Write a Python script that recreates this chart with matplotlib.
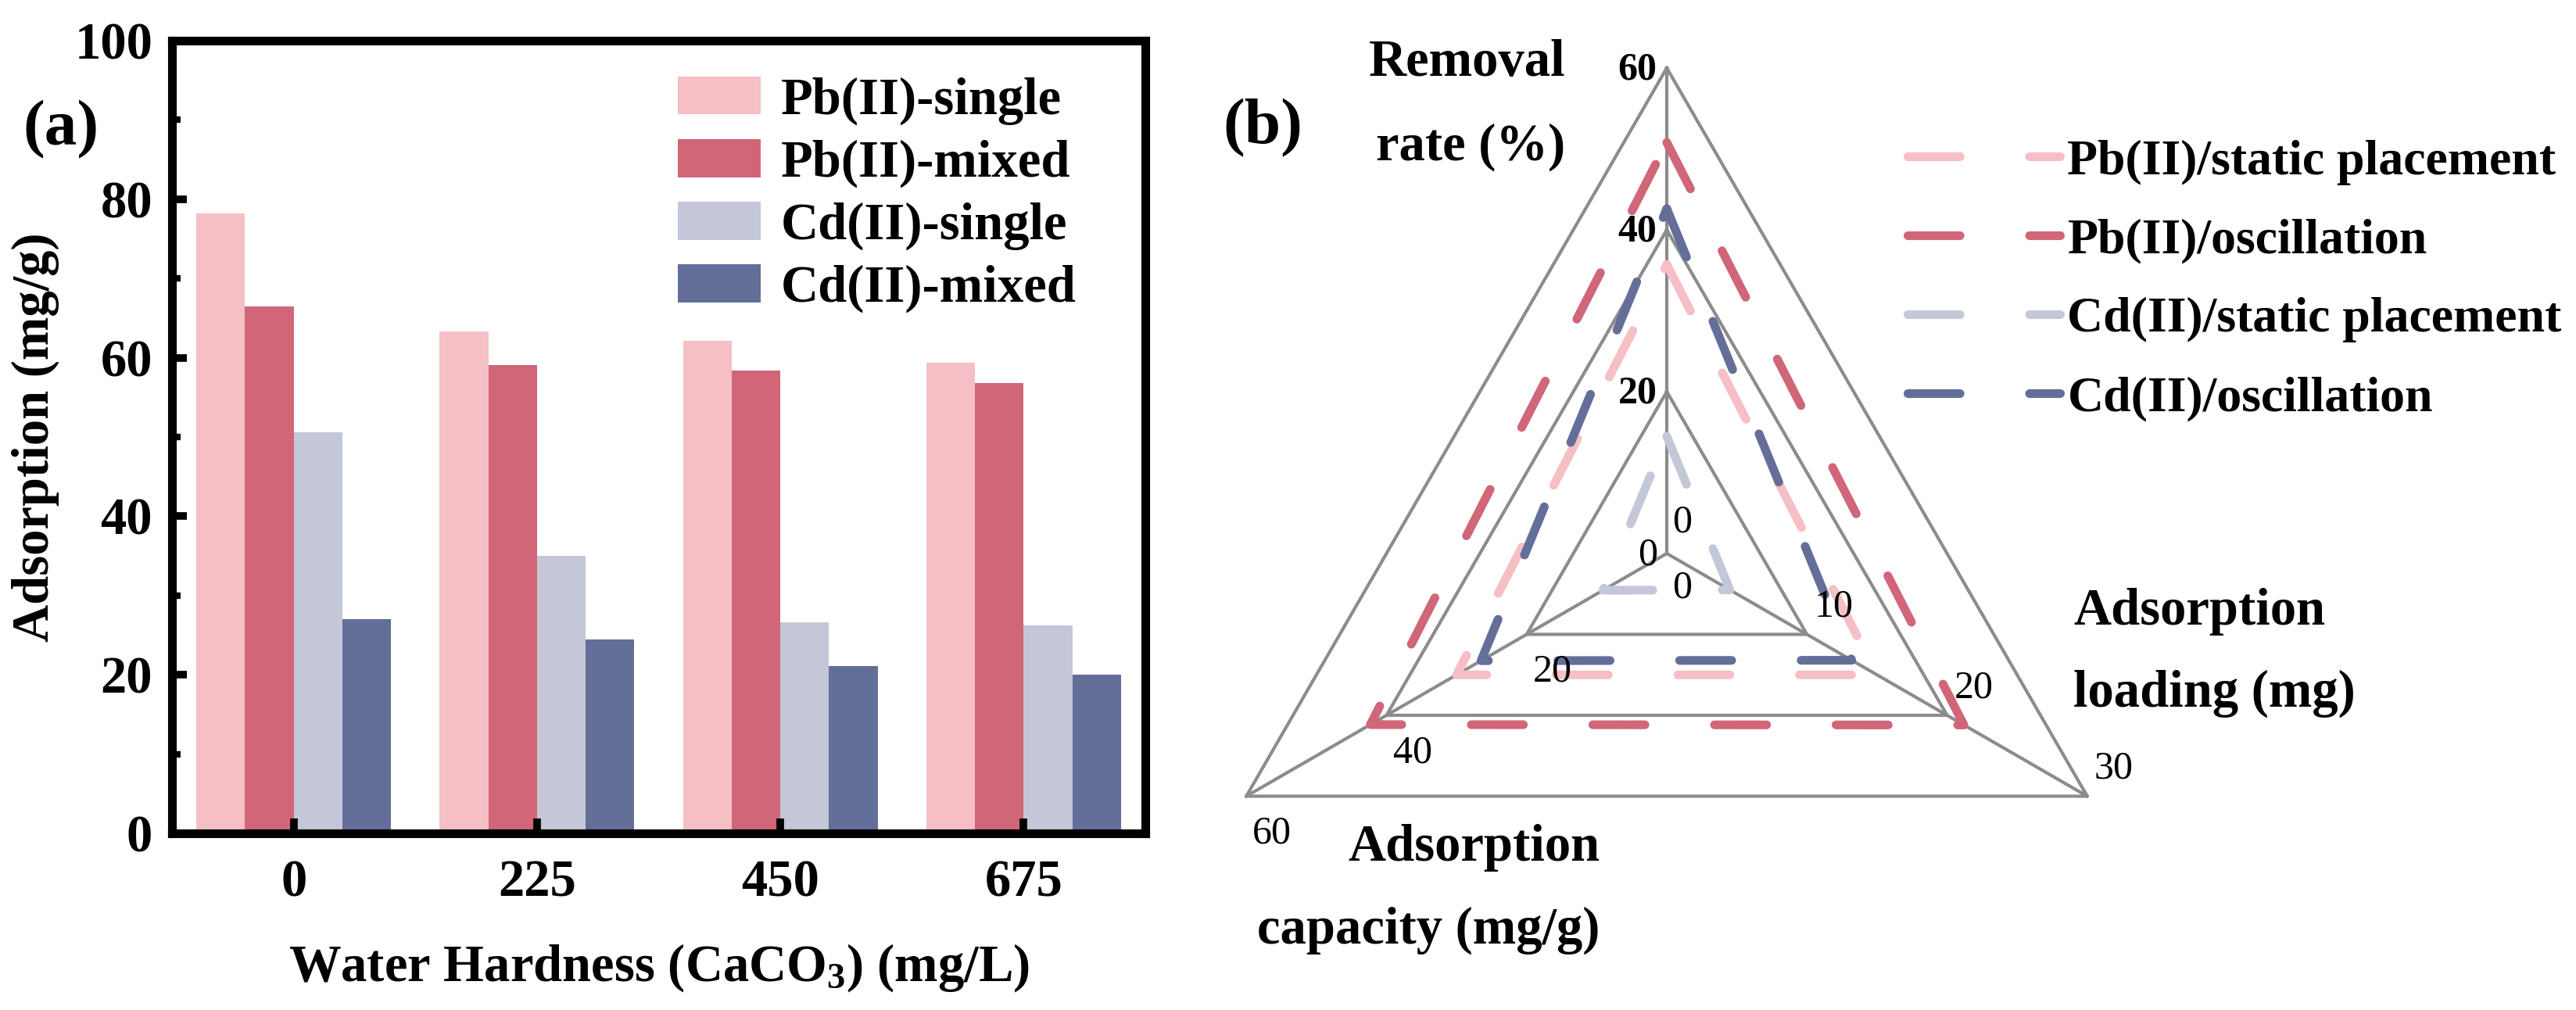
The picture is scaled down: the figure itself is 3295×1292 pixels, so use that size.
import numpy as np
import matplotlib
matplotlib.use("Agg")
import matplotlib.pyplot as plt
from matplotlib.ticker import MultipleLocator

plt.rcParams['font.family'] = ['Liberation Serif', 'DejaVu Serif']
plt.rcParams['font.weight'] = 'bold'
plt.rcParams['mathtext.fontset'] = 'custom'
plt.rcParams['mathtext.rm'] = 'Liberation Serif:bold'
plt.rcParams['mathtext.bf'] = 'Liberation Serif:bold'
plt.rcParams['mathtext.it'] = 'Liberation Serif:bold'
plt.rcParams['mathtext.default'] = 'rm'

# ---- data, panel (a)
hardness = ['0', '225', '450', '675']
pb_single = [78.2, 63.3, 62.1, 59.4]
pb_mixed = [66.5, 59.1, 58.4, 56.8]
cd_single = [50.6, 35.0, 26.6, 26.2]
cd_mixed = [27.0, 24.5, 21.1, 20.0]
bar_names = ['Pb(II)-single', 'Pb(II)-mixed', 'Cd(II)-single', 'Cd(II)-mixed']

# ---- data, panel (b): order removal, loading, capacity
radar_titles = [['Removal', 'rate (%)'], ['Adsorption', 'loading (mg)'], ['Adsorption', 'capacity (mg/g)']]
radar_max = [60, 30, 60]
radar_ticks = [[0, 20, 40, 60], [0, 10, 20, 30], [0, 20, 40, 60]]
pb_static = [35.7, 15.0, 30.0]
pb_osc = [50.8, 21.2, 42.3]
cd_static = [14.5, 4.5, 9.1]
cd_osc = [42.6, 13.2, 26.5]
radar_names = ['Pb(II)/static placement', 'Pb(II)/oscillation',
               'Cd(II)/static placement', 'Cd(II)/oscillation']

colors = ['#F5BFC5', '#D06677', '#C4C7D8', '#636E99']
grid_col = '#8C8C8C'

W, H = 3295, 1292
fig = plt.figure(figsize=(W / 200, H / 200), dpi=200)

# ================= (a) bar chart
ax1 = fig.add_axes([220 / W, 1 - 1066 / H, (1465 - 220) / W, (1066 - 52) / H])
x = np.arange(len(hardness))
bw = 0.2
for i, (vals, c, name) in enumerate(zip([pb_single, pb_mixed, cd_single, cd_mixed], colors, bar_names)):
    ax1.bar(x + (i - 1.5) * bw, vals, bw, color=c, linewidth=0, label=name)

ax1.set_xlim(-0.5, 3.5)
ax1.set_ylim(0, 100)
ax1.set_xticks(x)
ax1.set_xticklabels(hardness)
ax1.yaxis.set_major_locator(MultipleLocator(20))
ax1.yaxis.set_minor_locator(MultipleLocator(10))
ax1.tick_params(axis='both', which='major', direction='in', length=7, width=3.5, labelsize=24)
ax1.tick_params(axis='y', which='minor', direction='in', length=4, width=3)
ax1.tick_params(axis='y', pad=9)
ax1.tick_params(axis='x', pad=12)
for s in ax1.spines.values():
    s.set_linewidth(4)
ax1.set_ylabel('Adsorption (mg/g)', fontsize=24, fontweight='bold', labelpad=7)
ax1.set_xlabel('Water Hardness (CaCO$_3$) (mg/L)', fontsize=24, fontweight='bold', labelpad=16)
ax1.legend(loc='upper left', bbox_to_anchor=(0.52, 0.955), borderaxespad=0, borderpad=0,
           frameon=False, prop={'size': 24, 'weight': 'bold'}, handlelength=1.59,
           handleheight=0.75, handletextpad=0.375, labelspacing=0.27)

fig.text(78 / W, 1 - 166 / H, '(a)', ha='center', va='center', fontsize=30, fontweight='bold')
fig.text(1615 / W, 1 - 164 / H, '(b)', ha='center', va='center', fontsize=30, fontweight='bold')

# ================= (b) triangular radar
cx, cy, R = 2132, 708, 621
ax2 = fig.add_axes([(cx - R) / W, 1 - (cy + R) / H, 2 * R / W, 2 * R / H], projection='polar')
ax2.set_ylim(0, 1)
ax2.grid(False)
ax2.set_xticks([])
ax2.set_yticks([])
ax2.spines['polar'].set_visible(False)
ax2.patch.set_visible(False)

angles = np.array([np.pi / 2, 11 * np.pi / 6, 7 * np.pi / 6])
closed = np.r_[angles, angles[0]]

# rings and spokes
for k in range(1, len(radar_ticks[0])):
    f = radar_ticks[0][k] / radar_max[0]
    ax2.plot(closed, [f] * len(closed), color=grid_col, lw=1.5, clip_on=False, zorder=1)
for a in angles:
    ax2.plot([a, a], [0, 1], color=grid_col, lw=1.5, clip_on=False, zorder=1)

lines = []
for vals, c, name in zip([pb_static, pb_osc, cd_static, cd_osc], colors, radar_names):
    r = np.array(vals) / np.array(radar_max)
    ln, = ax2.plot(closed, np.r_[r, r[0]], color=c, lw=4, ls=(0, (6, 8)),
                   dash_capstyle='round', solid_capstyle='round', label=name,
                   clip_on=False, zorder=3)
    lines.append(ln)

# tick labels on each radar axis
tick_off = [(-13.5, -1), (12.2, 12.6), (11.9, -17.3)]
zero_off = [(7.2, 14.4), (7.2, -15.8), (-8.6, -0.7)]
tick_w = ['bold', 'normal', 'normal']
for i in range(3):
    for v in radar_ticks[i]:
        off = zero_off[i] if v == 0 else tick_off[i]
        ax2.annotate(str(v), xy=(angles[i], v / radar_max[i]), xytext=off,
                     textcoords='offset points', ha='center', va='center',
                     fontsize=18, fontweight='normal' if v == 0 else tick_w[i],
                     annotation_clip=False)

# axis titles (two lines each)
title_pos = [(2002, [97, 205], 'right'), (2652, [799, 904], 'left'), (2046, [1101, 1207], 'right')]
for (tx, ys, ha), lines_txt in zip(title_pos, radar_titles):
    for ty, t in zip(ys, lines_txt):
        fig.text(tx / W, 1 - ty / H, t, ha=ha, va='baseline', fontsize=24, fontweight='bold')

fig.legend(handles=lines, loc='upper left', bbox_to_anchor=(2440 / W, 1 - 178 / H),
           borderaxespad=0, borderpad=0, frameon=False, prop={'size': 23, 'weight': 'bold'},
           handlelength=3.05, handletextpad=0.15, labelspacing=0.66)

fig.savefig('out.png', dpi=200)
